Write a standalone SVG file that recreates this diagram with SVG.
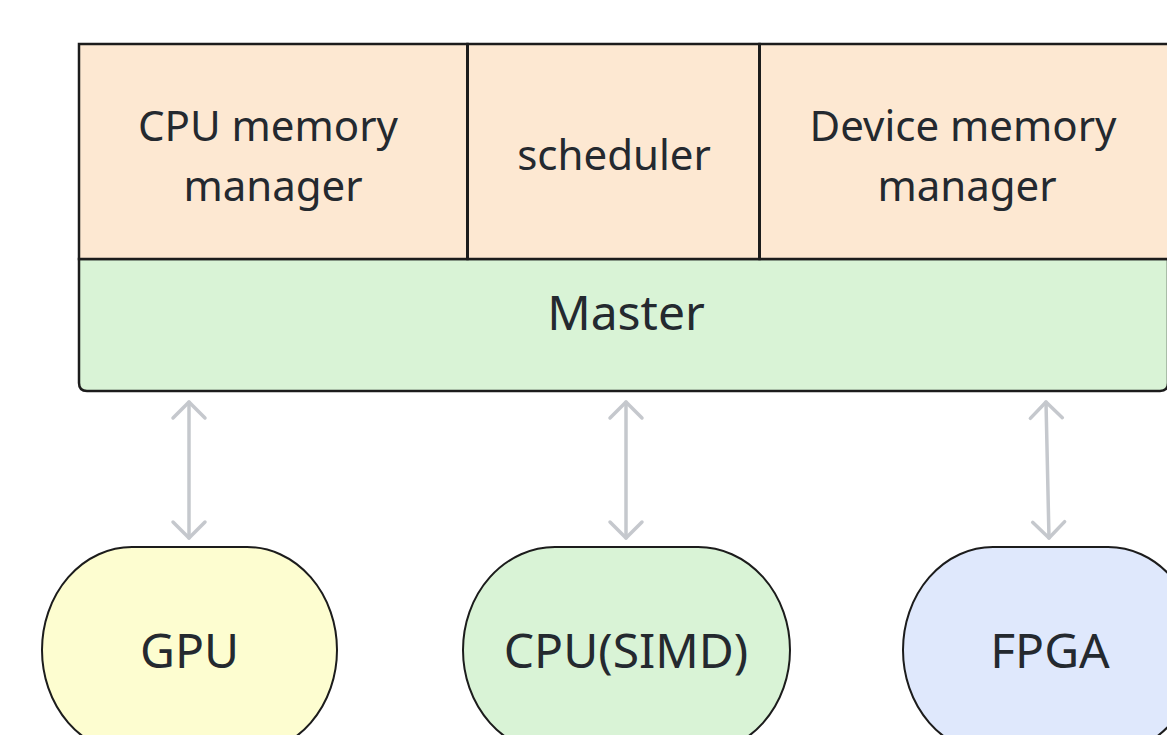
<svg xmlns="http://www.w3.org/2000/svg" width="1167" height="735" viewBox="0 0 1167 735">
<style>
.lbl{font-family:"Noto Sans","Open Sans","DejaVu Sans",sans-serif;fill:#24292f;text-anchor:middle}
.top{font-size:42px}
.big{font-size:48px}
.edge{stroke:#1c1c1c;stroke-width:2.5}
.conn{stroke:#c5c8cd;stroke-width:3.5;fill:none;stroke-linecap:round}
</style>
<defs>
<marker id="ah" markerUnits="userSpaceOnUse" viewBox="-20 -20 40 40" markerWidth="40" markerHeight="40" refX="0" refY="0" orient="auto-start-reverse">
<path d="M-16,-16 L0,0 L-16,16" fill="none" stroke="#c5c8cd" stroke-width="3.5" stroke-linecap="round" stroke-linejoin="round"/>
</marker>
</defs>
<rect width="1167" height="735" fill="#ffffff"/>
<g id="master">
<path d="M79,259 H1168 V383 Q1168,391 1160,391 H87 Q79,391 79,383 Z" fill="#d9f3d6" class="edge"/>
<text class="lbl big" x="626" y="330">Master</text>
</g>
<g id="cpu-memory-manager">
<rect x="79" y="44" width="388.5" height="215" fill="#fde8d2" class="edge"/>
<text class="lbl top" x="268" y="141">CPU memory</text>
<text class="lbl top" x="273" y="201">manager</text>
</g>
<g id="scheduler">
<rect x="467.5" y="44" width="292" height="215" fill="#fde8d2" class="edge"/>
<text class="lbl top" x="614" y="170">scheduler</text>
</g>
<g id="device-memory-manager">
<rect x="759.5" y="44" width="409" height="215" fill="#fde8d2" class="edge"/>
<text class="lbl top" x="963" y="141">Device memory</text>
<text class="lbl top" x="967" y="201">manager</text>
</g>
<line x1="467.5" y1="44" x2="467.5" y2="259" stroke="#1c1c1c" stroke-width="3"/>
<line x1="759.5" y1="44" x2="759.5" y2="259" stroke="#1c1c1c" stroke-width="3"/>
<g id="connectors">
<line class="conn" x1="189" y1="402" x2="189" y2="538" marker-start="url(#ah)" marker-end="url(#ah)"/>
<line class="conn" x1="626" y1="402" x2="626" y2="538" marker-start="url(#ah)" marker-end="url(#ah)"/>
<line class="conn" x1="1046" y1="402" x2="1049" y2="538" marker-start="url(#ah)" marker-end="url(#ah)"/>
</g>
<g id="gpu">
<rect x="42" y="547" width="295" height="206" rx="90" ry="103" fill="#fdfdd0" stroke="#1c1c1c" stroke-width="2"/>
<text class="lbl big" x="189.5" y="668">GPU</text>
</g>
<g id="cpu-simd">
<rect x="463" y="547" width="327" height="206" rx="92" ry="103" fill="#d9f3d6" stroke="#1c1c1c" stroke-width="2"/>
<text class="lbl big" x="626" y="668">CPU(SIMD)</text>
</g>
<g id="fpga">
<rect x="903" y="547" width="295" height="206" rx="90" ry="103" fill="#dfe8fc" stroke="#1c1c1c" stroke-width="2"/>
<text class="lbl big" x="1050" y="668">FPGA</text>
</g>
</svg>
